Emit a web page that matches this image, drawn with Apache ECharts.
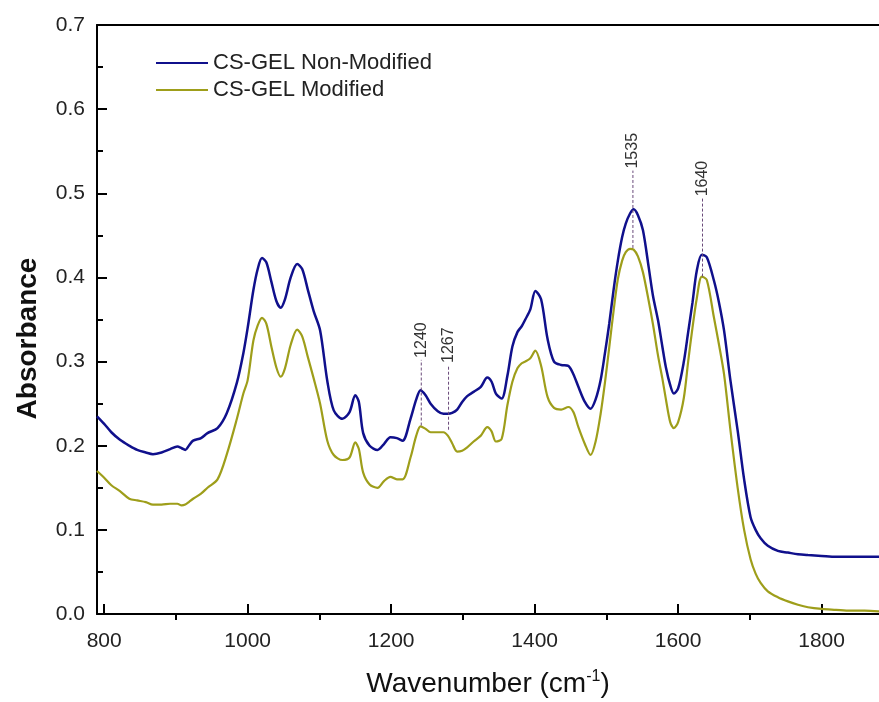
<!DOCTYPE html>
<html>
<head>
<meta charset="utf-8">
<script src="https://cdn.jsdelivr.net/npm/echarts@6/dist/echarts.min.js"></script>
<style>
  * { margin: 0; padding: 0; }
  html, body { background: #fff; }
</style>
</head>
<body>
<div id="main" style="width:879px;height:702px;"></div>
<script>
// wavenumber (cm-1)
var wavenumber = [790, 800, 810, 822, 835, 846, 858, 868, 880, 892, 902, 908, 913, 918, 924, 935, 944, 958, 971, 985,
  994, 1000, 1008, 1014, 1020, 1026, 1033, 1040, 1046, 1052, 1060, 1069, 1076, 1084, 1092, 1101, 1111, 1120, 1132, 1142,
  1150, 1155, 1161, 1170, 1181, 1190, 1199, 1208, 1216, 1227, 1235, 1241, 1248, 1255, 1265, 1273, 1279, 1285, 1292, 1299,
  1306, 1315, 1325, 1334, 1340, 1346, 1354, 1362, 1369, 1376, 1382, 1387, 1394, 1401, 1409, 1418, 1427, 1437, 1447, 1454,
  1461, 1470, 1478, 1485, 1492, 1498, 1504, 1510, 1516, 1522, 1527, 1533, 1538, 1544, 1551, 1559, 1565, 1572, 1578, 1583,
  1589, 1594, 1600, 1608, 1614, 1620, 1626, 1633, 1640, 1650, 1657, 1664, 1673, 1683, 1692, 1701, 1708, 1715, 1725, 1739,
  1753, 1767, 1781, 1800, 1820, 1840, 1860, 1880]

// CS-GEL Non-Modified
var nonModified = [0.235, 0.226, 0.216, 0.207, 0.200, 0.195, 0.192, 0.190, 0.192, 0.196, 0.199, 0.197, 0.195, 0.200, 0.206, 0.209, 0.215, 0.221, 0.239, 0.275,
  0.310, 0.340, 0.385, 0.410, 0.423, 0.418, 0.395, 0.372, 0.364, 0.374, 0.400, 0.416, 0.410, 0.385, 0.360, 0.337, 0.277, 0.242, 0.232, 0.240,
  0.260, 0.252, 0.215, 0.200, 0.195, 0.202, 0.210, 0.209, 0.206, 0.232, 0.255, 0.266, 0.260, 0.250, 0.241, 0.238, 0.238, 0.239, 0.243, 0.252,
  0.259, 0.264, 0.270, 0.281, 0.276, 0.262, 0.256, 0.283, 0.318, 0.335, 0.342, 0.350, 0.362, 0.384, 0.374, 0.327, 0.300, 0.296, 0.295, 0.285,
  0.270, 0.252, 0.244, 0.255, 0.278, 0.310, 0.345, 0.385, 0.420, 0.448, 0.464, 0.476, 0.481, 0.474, 0.456, 0.412, 0.378, 0.349, 0.318, 0.293,
  0.272, 0.262, 0.268, 0.300, 0.335, 0.370, 0.408, 0.427, 0.424, 0.396, 0.370, 0.337, 0.277, 0.218, 0.160, 0.115, 0.100, 0.090, 0.081, 0.075,
  0.073, 0.071, 0.070, 0.069, 0.068, 0.068, 0.068, 0.068]

// CS-GEL Modified
var modified = [0.170, 0.162, 0.153, 0.146, 0.137, 0.135, 0.133, 0.130, 0.130, 0.131, 0.131, 0.129, 0.130, 0.133, 0.137, 0.143, 0.150, 0.160, 0.190, 0.232,
  0.262, 0.278, 0.325, 0.343, 0.352, 0.345, 0.318, 0.293, 0.282, 0.292, 0.320, 0.338, 0.330, 0.305, 0.280, 0.250, 0.206, 0.189, 0.183, 0.186,
  0.204, 0.196, 0.168, 0.154, 0.150, 0.158, 0.163, 0.160, 0.160, 0.186, 0.212, 0.223, 0.220, 0.216, 0.216, 0.216, 0.212, 0.203, 0.193, 0.194,
  0.198, 0.205, 0.212, 0.222, 0.217, 0.205, 0.208, 0.248, 0.276, 0.292, 0.298, 0.300, 0.304, 0.313, 0.295, 0.258, 0.245, 0.243, 0.246, 0.240,
  0.222, 0.202, 0.189, 0.205, 0.238, 0.275, 0.317, 0.360, 0.398, 0.420, 0.430, 0.434, 0.433, 0.425, 0.406, 0.372, 0.344, 0.307, 0.280, 0.255,
  0.228, 0.221, 0.228, 0.257, 0.300, 0.340, 0.375, 0.401, 0.397, 0.352, 0.320, 0.285, 0.218, 0.150, 0.100, 0.065, 0.048, 0.037, 0.027, 0.020,
  0.015, 0.011, 0.008, 0.006, 0.005, 0.004, 0.004, 0.003]

// peak markers: label, plotted position, dashed line from / to
var peakText = ['1240', '1267', '1535', '1640']
var peakPos = [1242, 1280, 1537, 1634]
var peakLow = [0.224, 0.219, 0.435, 0.401]
var peakHigh = [0.302, 0.296, 0.527, 0.494]

var xMajor = [800, 1000, 1200, 1400, 1600, 1800]
var xMinor = [900, 1100, 1300, 1500, 1700]

var chart = echarts.init(document.getElementById('main'))

function pairs(xs, ys) {
  return xs.map(function (x, i) { return [x, ys[i]] })
}

var font = 'Liberation Sans, Arial, sans-serif'

chart.setOption({
  animation: false,
  textStyle: { fontFamily: font },
  grid: { left: 97, right: 0, top: 25, bottom: 88, outerBoundsMode: 'none' },
  legend: {
    orient: 'vertical',
    left: 150,
    top: 47,
    itemWidth: 52,
    itemHeight: 14,
    itemGap: 5,
    itemStyle: { opacity: 0 },
    lineStyle: { width: 2 },
    data: ['CS-GEL Non-Modified', 'CS-GEL Modified'],
    textStyle: { fontSize: 22, color: '#222', fontFamily: font }
  },
  xAxis: [
    {
      type: 'value',
      min: 790,
      max: 1880,
      name: '{a|Wavenumber (cm}{s|-1}{a|)}',
      nameLocation: 'middle',
      nameMoveOverlap: false,
      nameGap: 55,
      nameTextStyle: {
        rich: {
          a: { fontSize: 28, color: '#111', fontFamily: font },
          s: { fontSize: 16, color: '#111', fontFamily: font, padding: [0, 0, 14, 0] }
        }
      },
      splitLine: { show: false },
      axisLine: { onZero: false, lineStyle: { color: '#000', width: 2 } },
      axisTick: { inside: true, length: 10, lineStyle: { color: '#000', width: 2 }, customValues: xMajor },
      axisLabel: { fontSize: 21, color: '#222', margin: 17, customValues: xMajor, formatter: function (v) { return String(v) } }
    },
    {
      type: 'value',
      min: 790,
      max: 1880,
      splitLine: { show: false },
      axisLine: { show: false },
      axisTick: { inside: true, length: 6, lineStyle: { color: '#000', width: 2 }, customValues: xMinor },
      axisLabel: { show: false, customValues: xMinor }
    },
    {
      type: 'value',
      position: 'top',
      min: 790,
      max: 1880,
      splitLine: { show: false },
      axisLine: { onZero: false, lineStyle: { color: '#000', width: 2 } },
      axisTick: { show: false },
      axisLabel: { show: false }
    }
  ],
  yAxis: {
    type: 'value',
    min: 0,
    max: 0.7,
    interval: 0.1,
    name: 'Absorbance',
    nameLocation: 'middle',
    nameGap: 55,
    nameTextStyle: { fontSize: 28, fontWeight: 'bold', color: '#111', padding: [0, 38, 0, 0] },
    splitLine: { show: false },
    axisLine: { lineStyle: { color: '#000', width: 2 } },
    axisTick: { inside: true, length: 10, lineStyle: { color: '#000', width: 2 } },
    minorTick: { show: true, splitNumber: 2, length: 6, lineStyle: { color: '#000', width: 2 } },
    axisLabel: { fontSize: 21, color: '#222', margin: 12, formatter: function (v) { return v.toFixed(1) } }
  },
  series: [
    {
      name: 'CS-GEL Non-Modified',
      type: 'line',
      symbol: 'none',
      smooth: 0.3,
      color: '#10108c',
      lineStyle: { width: 2.5, color: '#10108c' },
      data: pairs(wavenumber, nonModified),
      z: 3
    },
    {
      name: 'CS-GEL Modified',
      type: 'line',
      symbol: 'none',
      smooth: 0.3,
      color: '#9e9e1a',
      lineStyle: { width: 2.2, color: '#9e9e1a' },
      data: pairs(wavenumber, modified),
      z: 2
    },
    {
      type: 'custom',
      silent: true,
      z: 4,
      data: peakPos.map(function (x, i) { return [x, peakLow[i], peakHigh[i], i] }),
      renderItem: function (params, api) {
        var x = api.value(0)
        var p0 = api.coord([x, api.value(1)])
        var p1 = api.coord([x, api.value(2)])
        return {
          type: 'group',
          children: [
            {
              type: 'line',
              shape: { x1: p0[0], y1: p0[1], x2: p1[0], y2: p1[1] },
              style: { stroke: '#6a4a7a', lineWidth: 1, lineDash: [3, 2] }
            },
            {
              type: 'text',
              x: p1[0],
              y: p1[1] - 2,
              rotation: Math.PI / 2,
              style: {
                text: peakText[api.value(3)],
                fontSize: 16,
                fontFamily: font,
                fill: '#333',
                align: 'left',
                verticalAlign: 'middle'
              }
            }
          ]
        }
      }
    }
  ]
})
</script>
</body>
</html>
